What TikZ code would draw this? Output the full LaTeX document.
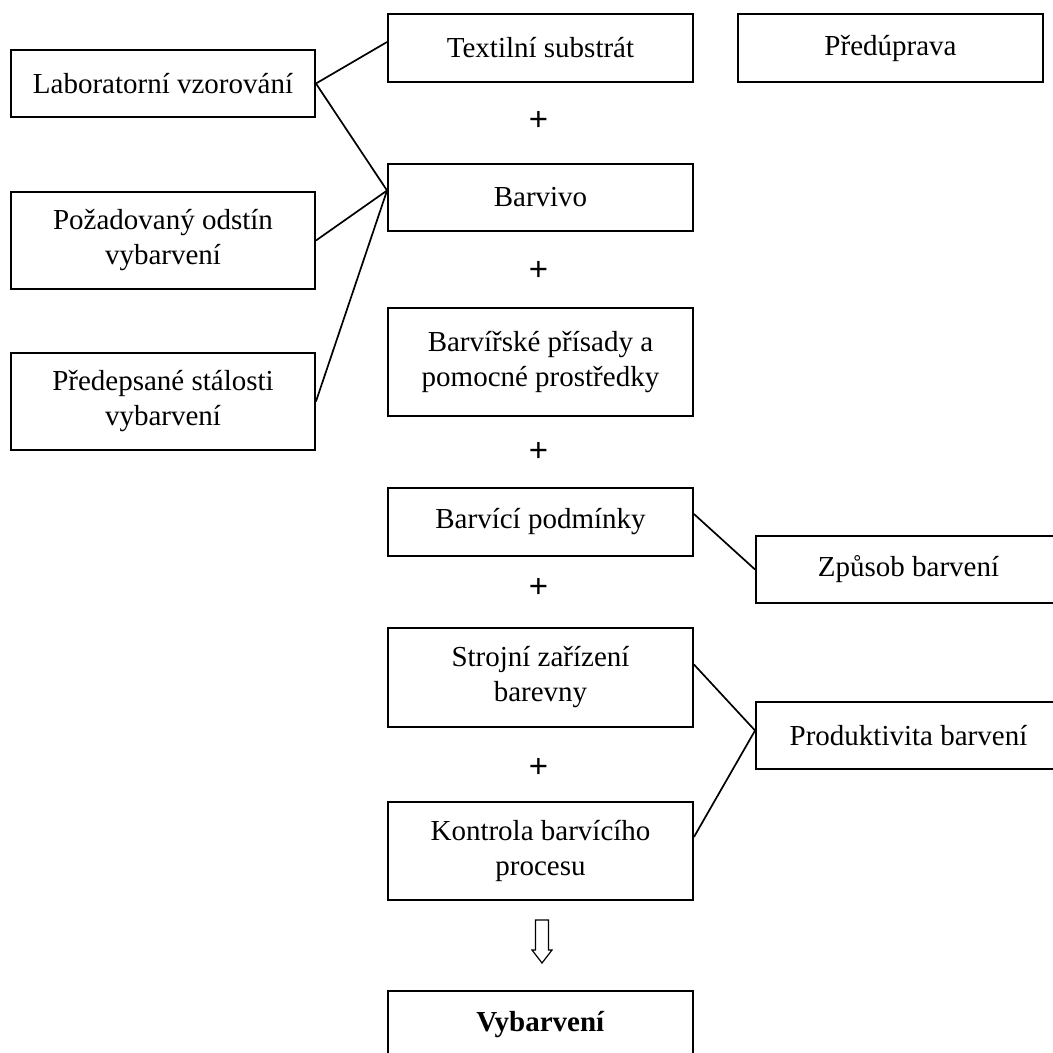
\documentclass[tikz,border=0pt]{standalone}
\usepackage{fontspec}
\setmainfont{Liberation Serif}
\newfontfamily\plfont{Liberation Sans}
\begin{document}
\begin{tikzpicture}[x=1pt,y=-1pt,
    blk/.style={draw,line width=1.9pt,minimum width=305pt,minimum height=67pt,
      inner sep=0pt,align=center,font=\fontsize{29}{35}\selectfont},
    pl/.style={inner sep=0pt,font=\plfont\fontsize{33}{36}\selectfont},
    ln/.style={line width=1.7pt}]
  \useasboundingbox[fill=white] (0,0) rectangle (1053,1053);
  % ---- left column: what is asked for ----
  \node[blk,minimum width=304pt] (lab) at (163,83.5) {Laboratorní vzorování};
  \node[blk,minimum width=304pt,minimum height=97pt] (pozad) at (163,240.5) {Požadovaný odstín\\vybarvení};
  \node[blk,minimum width=304pt,minimum height=97pt] (predeps) at (163,401.5) {Předepsané stálosti\\vybarvení};
  % ---- middle column: the inputs ----
  \node[blk,minimum height=68pt] (textil) at (540.5,48) {Textilní substrát};
  \node[blk] (barvivo) at (540.5,197.5) {Barvivo};
  \node[blk,minimum height=108pt] (prisady) at (540.5,362) {Barvířské přísady a\\pomocné prostředky};
  \node[blk,minimum height=68pt] (podminky) at (540.5,522) {Barvící podmínky};
  \node[blk,minimum height=99pt] (strojni) at (540.5,677.5) {Strojní zařízení\\barevny};
  \node[blk,minimum height=98pt] (kontrola) at (540.5,851) {Kontrola barvícího\\procesu};
  \node[blk] (vybarveni) at (540.5,1024.5) {\textbf{Vybarvení}};
  \foreach \i/\y in {1/121,2/271,3/452,4/588,5/768}
    \node[pl] (plus\i) at (538.5,\y) {+};
  % ---- right column ----
  \node[blk,minimum height=68pt] (preduprava) at (890.5,48) {Předúprava};
  \node[blk] (zpusob) at (908.5,569.5) {Způsob barvení};
  \node[blk] (produkt) at (908.5,735.5) {Produktivita barvení};
  % ---- connectors ----
  \draw[ln] (lab.east) -- ([yshift=6pt]textil.west);
  \draw[ln] (lab.east) -- ([yshift=7pt]barvivo.west);
  \draw[ln] (pozad.east) -- ([yshift=7pt]barvivo.west);
  \draw[ln] (predeps.east) -- ([yshift=7pt]barvivo.west);
  \draw[ln] ([yshift=8pt]podminky.east) -- (zpusob.west);
  \draw[ln] ([yshift=13pt]strojni.east) -- ([yshift=5pt]produkt.west);
  \draw[ln] ([yshift=14pt]kontrola.east) -- ([yshift=5pt]produkt.west);
  % ---- hollow arrow down to the result ----
  \draw[line width=1.2pt,line join=miter] (535.5,920) -- (548.5,920) -- (548.5,950) -- (552,950)
    -- (542,963) -- (532,950) -- (535.5,950) -- cycle;
\end{tikzpicture}
\end{document}
